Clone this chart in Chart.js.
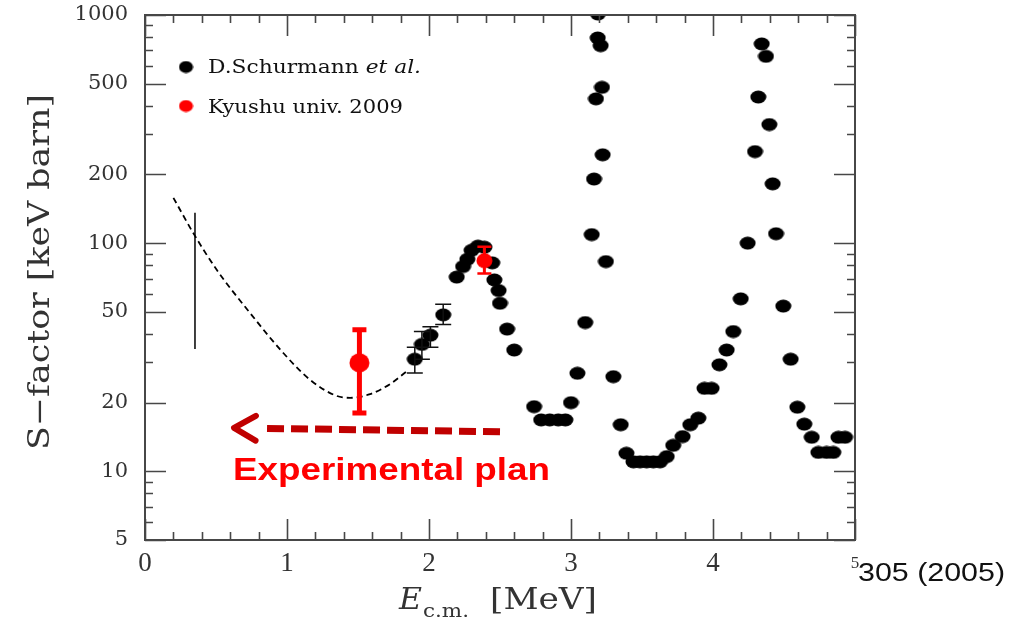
<!DOCTYPE html>
<html>
<head>
<meta charset="utf-8">
<script src="https://cdn.jsdelivr.net/npm/chart.js@4.4.1/dist/chart.umd.min.js"></script>
<style>
  html, body { margin: 0; padding: 0; background: #ffffff; }
  canvas { display: block; }
</style>
</head>
<body>
<canvas id="sfactor" width="1027" height="622"></canvas>
<script>
// ---- D.Schurmann et al. S-factor data (E in MeV, S in keV barn) ----
const schurmannE = [1.90, 1.95, 2.01, 2.10, 2.195, 2.24, 2.27, 2.30, 2.345, 2.39, 2.445, 2.46, 2.49, 2.50, 2.55, 2.60,
  2.74, 2.79, 2.85, 2.91, 2.96, 3.00, 3.045, 3.10, 3.146, 3.162, 3.176, 3.188, 3.19, 3.209, 3.218, 3.223, 3.246, 3.298,
  3.35, 3.39, 3.44, 3.486, 3.533, 3.58, 3.627, 3.674, 3.72, 3.786, 3.84, 3.897, 3.94, 3.99, 4.045, 4.096, 4.143, 4.195,
  4.244, 4.296, 4.319, 4.343, 4.373, 4.397, 4.42, 4.444, 4.495, 4.547, 4.594, 4.643, 4.695, 4.742, 4.80, 4.847, 4.883, 4.93];
const schurmannS = [31, 36, 39.5, 48.5, 71, 79, 85, 93, 97, 96, 82, 69, 62, 54.5, 42, 34,
  19.2, 16.8, 16.8, 16.8, 16.8, 20, 26.9, 44.9, 109, 191, 429, 793, 1010, 734, 482, 244, 83, 26,
  16, 12, 11, 11, 11, 11, 11, 11.6, 13, 14.2, 16, 17.1, 23.1, 23.1, 29.3, 34, 41, 57,
  100, 252, 437, 747, 659, 331, 182, 110, 53, 31, 19.1, 16.1, 14.1, 12.1, 12.1, 12.1, 14.1, 14.1];
// visible error bars (lower / upper S) for the first points
const schurmannErrLo = [27, 31, 35, 44];
const schurmannErrHi = [35, 41, 43, 54];

// ---- Kyushu univ. 2009 ----
const kyushuE = [1.51, 2.39];
const kyushuS = [29.9, 83.8];
const kyushuErrLo = [18.0, 73.6];
const kyushuErrHi = [41.7, 96.4];

// ---- model curve (dashed) ----
const curveE = [0.20, 0.34, 0.505, 0.74, 0.974, 1.162, 1.35, 1.444, 1.585, 1.725, 1.843];
const curveS = [158, 110.7, 76.4, 49.4, 33.0, 25.2, 21.4, 21.0, 21.8, 24.1, 27.4];

// ---- vertical range bar at low energy ----
const rangeBarE = [0.352, 0.352];
const rangeBarS = [34.4, 136];

// ---- planned measurement arrow (from right end to tip) ----
const planArrowE = [2.50, 0.627];
const planArrowS = [14.9, 15.5];

// ---- axis ticks ----
const xTickLabels = [0, 1, 2, 3, 4, 5];
const xMinorTicks = [0.2, 0.4, 0.6, 0.8, 1.2, 1.4, 1.6, 1.8, 2.2, 2.4, 2.6, 2.8, 3.2, 3.4, 3.6, 3.8, 4.2, 4.4, 4.6, 4.8];
const yTickLabels = [5, 10, 20, 50, 100, 200, 500, 1000];
const yMinorTicks = [6, 7, 8, 9, 30, 40, 60, 70, 80, 90, 300, 400, 600, 700, 800, 900];

// filled ellipse sprite used as point marker
function dotSprite(w, h, color) {
  const c = document.createElement('canvas');
  c.width = w; c.height = h;
  const g = c.getContext('2d');
  g.fillStyle = color;
  g.beginPath();
  g.ellipse(w / 2, h / 2, w / 2 - 0.5, h / 2 - 0.5, 0, 0, Math.PI * 2);
  g.fill();
  return c;
}
const blackDot = dotSprite(17, 14, '#000000');
const redDotBig = dotSprite(21, 20, '#ff0000');
const redDotSmall = dotSprite(17, 16, '#ff0000');
const legendBlack = dotSprite(15, 13, '#000000');
const legendRed = dotSprite(15, 13, '#ff0000');

const toXY = (xs, ys) => xs.map((x, i) => ({ x: x, y: ys[i] }));

// text drawn with a horizontal stretch so it spans a given width
function stretchText(ctx, text, x, y, font, width, color) {
  ctx.save();
  ctx.font = font;
  ctx.fillStyle = color;
  ctx.textAlign = 'left';
  ctx.textBaseline = 'alphabetic';
  const w = ctx.measureText(text).width;
  ctx.translate(x, y);
  ctx.scale(width / w, 1);
  ctx.fillText(text, 0, 0);
  ctx.restore();
}

const AXIS_COLOR = '#474747';
const TEXT_COLOR = '#333333';

const framePlugin = {
  id: 'frameTicks',
  afterDraw(chart) {
    const { ctx, chartArea: a, scales: { x, y } } = chart;
    ctx.save();
    ctx.strokeStyle = AXIS_COLOR;
    ctx.lineWidth = 2;
    ctx.strokeRect(a.left, a.top, a.right - a.left, a.bottom - a.top);
    ctx.lineWidth = 1.6;
    const major = 21, minor = 8;
    ctx.beginPath();
    const xt = (v, len) => {
      const px = Math.round(x.getPixelForValue(v)) + 0.5;
      ctx.moveTo(px, a.bottom); ctx.lineTo(px, a.bottom - len);
      ctx.moveTo(px, a.top); ctx.lineTo(px, a.top + len);
    };
    const yt = (v, len) => {
      const py = Math.round(y.getPixelForValue(v)) + 0.5;
      ctx.moveTo(a.left, py); ctx.lineTo(a.left + len, py);
      ctx.moveTo(a.right, py); ctx.lineTo(a.right - len, py);
    };
    xTickLabels.forEach(v => xt(v, major));
    xMinorTicks.forEach(v => xt(v, minor));
    yTickLabels.forEach(v => yt(v, major));
    yMinorTicks.forEach(v => yt(v, minor));
    ctx.stroke();

    // last x label sits small beside the reference note
    ctx.fillStyle = TEXT_COLOR;
    ctx.font = '17px "Liberation Serif", serif';
    ctx.textAlign = 'center';
    ctx.textBaseline = 'alphabetic';
    ctx.fillText(String(xTickLabels[xTickLabels.length - 1]), x.getPixelForValue(5), 568);
    ctx.restore();
  }
};

const errorBarPlugin = {
  id: 'errorBars',
  afterDatasetsDraw(chart) {
    const { ctx, scales: { x, y } } = chart;
    const bars = (xs, lo, hi, color, width, capHalf, capWidth) => {
      ctx.save();
      ctx.strokeStyle = color;
      ctx.lineCap = 'butt';
      lo.forEach((l, i) => {
        const px = x.getPixelForValue(xs[i]);
        const pLo = y.getPixelForValue(l);
        const pHi = y.getPixelForValue(hi[i]);
        ctx.lineWidth = width[i];
        ctx.beginPath();
        ctx.moveTo(px, pLo); ctx.lineTo(px, pHi);
        ctx.stroke();
        ctx.lineWidth = capWidth[i];
        ctx.beginPath();
        ctx.moveTo(px - capHalf[i], pLo); ctx.lineTo(px + capHalf[i], pLo);
        ctx.moveTo(px - capHalf[i], pHi); ctx.lineTo(px + capHalf[i], pHi);
        ctx.stroke();
      });
      ctx.restore();
    };
    bars(schurmannE, schurmannErrLo, schurmannErrHi, '#111111', [1.5, 1.5, 1.5, 1.5], [8, 8, 8, 8], [1.5, 1.5, 1.5, 1.5]);
    bars(kyushuE, kyushuErrLo, kyushuErrHi, '#ff0000', [5, 3], [7, 7], [5, 2.5]);
  }
};

const annotationPlugin = {
  id: 'annotations',
  afterDraw(chart) {
    const { ctx, scales: { x, y } } = chart;
    // dashed arrow
    const x0 = x.getPixelForValue(planArrowE[0]), y0 = y.getPixelForValue(planArrowS[0]);
    const x1 = x.getPixelForValue(planArrowE[1]), y1 = y.getPixelForValue(planArrowS[1]);
    const ang = Math.atan2(y1 - y0, x1 - x0);
    ctx.save();
    ctx.strokeStyle = '#c00000';
    ctx.lineWidth = 7;
    ctx.setLineDash([17, 7]);
    ctx.beginPath();
    const stop = 27;
    ctx.moveTo(x0, y0);
    ctx.lineTo(x1 - Math.cos(ang) * stop, y1 - Math.sin(ang) * stop);
    ctx.stroke();
    ctx.setLineDash([]);
    ctx.lineCap = 'round';
    ctx.lineJoin = 'round';
    ctx.lineWidth = 6;
    ctx.beginPath();
    const hl = 25, ha = 0.52;
    ctx.moveTo(x1 - Math.cos(ang - ha) * hl, y1 - Math.sin(ang - ha) * hl);
    ctx.lineTo(x1, y1);
    ctx.lineTo(x1 - Math.cos(ang + ha) * hl, y1 - Math.sin(ang + ha) * hl);
    ctx.stroke();
    ctx.restore();

    stretchText(ctx, 'Experimental plan', 233, 480, 'bold 32px "Liberation Sans", Arial, sans-serif', 317, '#ff0000');

    // legend
    ctx.drawImage(legendBlack, 186 - 7.5, 67 - 6.5);
    ctx.drawImage(legendRed, 186 - 7.5, 106 - 6.5);
    ctx.save();
    const fN = '18px "DejaVu Serif", serif', fI = 'italic 18px "DejaVu Serif", serif';
    ctx.font = fN; const w1 = ctx.measureText('D.Schurmann ').width;
    ctx.font = fI; const w2 = ctx.measureText('et al.').width;
    const s = (421 - 208) / (w1 + w2);
    ctx.fillStyle = '#111111';
    ctx.translate(208, 73);
    ctx.scale(s, 1);
    ctx.font = fN; ctx.fillText('D.Schurmann ', 0, 0);
    ctx.font = fI; ctx.fillText('et al.', w1, 0);
    ctx.restore();
    stretchText(ctx, 'Kyushu univ. 2009', 208, 113, '18px "DejaVu Serif", serif', 195, '#111111');

    // y-axis title
    ctx.save();
    ctx.translate(49, 450);
    ctx.rotate(-Math.PI / 2);
    stretchText(ctx, 'S\u2212factor [keV barn]', 0, 0, '29px "DejaVu Serif", serif', 356, TEXT_COLOR);
    ctx.restore();

    // x-axis title: E with subscript c.m.
    stretchText(ctx, 'E', 399, 609, 'italic 30px "DejaVu Serif", serif', 23, TEXT_COLOR);
    stretchText(ctx, 'c.m.', 423, 617, '18px "DejaVu Serif", serif', 46, TEXT_COLOR);
    stretchText(ctx, '[MeV]', 490, 609, '30px "DejaVu Serif", serif', 107, TEXT_COLOR);

    // reference note beside the axis
    stretchText(ctx, '305 (2005)', 858, 581, '25px "Liberation Sans", Arial, sans-serif', 147, '#111111');
  }
};

new Chart(document.getElementById('sfactor'), {
  type: 'scatter',
  data: {
    datasets: [
      {
        label: 'Kyushu univ. 2009',
        data: toXY(kyushuE, kyushuS),
        pointStyle: [redDotBig, redDotSmall],
        showLine: false,
        order: 0
      },
      {
        label: 'D.Schurmann et al.',
        data: toXY(schurmannE, schurmannS),
        pointStyle: blackDot,
        showLine: false,
        clip: 0,
        order: 1
      },
      {
        label: 'model',
        type: 'line',
        data: toXY(curveE, curveS),
        borderColor: '#000000',
        borderWidth: 1.8,
        borderDash: [6, 4],
        pointRadius: 0,
        cubicInterpolationMode: 'monotone',
        fill: false,
        order: 2
      },
      {
        label: 'range',
        type: 'line',
        data: toXY(rangeBarE, rangeBarS),
        borderColor: '#000000',
        borderWidth: 1.5,
        pointRadius: 0,
        fill: false,
        order: 3
      }
    ]
  },
  options: {
    responsive: false,
    animation: false,
    events: [],
    layout: { padding: { left: 0, right: 172, top: 15, bottom: 0 } },
    plugins: { legend: { display: false }, tooltip: { enabled: false } },
    scales: {
      x: {
        type: 'linear',
        min: 0, max: 5,
        grid: { display: false, drawTicks: false },
        border: { display: false },
        afterBuildTicks: (s) => { s.ticks = xTickLabels.map(v => ({ value: v })); },
        afterFit: (s) => { s.height = 82; },
        ticks: {
          padding: 8,
          color: TEXT_COLOR,
          maxRotation: 0,
          autoSkip: false,
          font: { family: '"Liberation Serif", serif', size: 27 },
          callback: (v) => (v === 5 ? '' : String(v))
        }
      },
      y: {
        type: 'logarithmic',
        min: 5, max: 1000,
        grid: { display: false, drawTicks: false },
        border: { display: false },
        afterBuildTicks: (s) => { s.ticks = yTickLabels.map(v => ({ value: v })); },
        afterFit: (s) => { s.width = 145; s.paddingTop = 0; s.paddingBottom = 0; },
        ticks: {
          padding: 17,
          color: TEXT_COLOR,
          autoSkip: false,
          font: { family: '"DejaVu Serif", serif', size: 21 },
          callback: (v) => String(v)
        }
      }
    }
  },
  plugins: [framePlugin, errorBarPlugin, annotationPlugin]
});
</script>
</body>
</html>
